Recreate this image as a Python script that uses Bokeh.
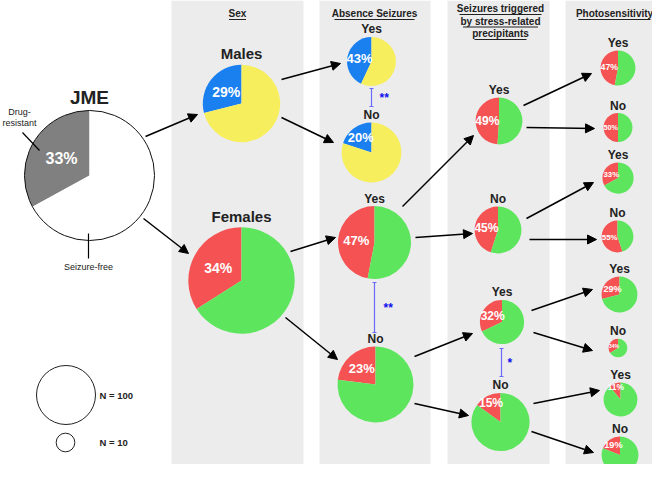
import math
from bokeh.plotting import figure
from bokeh.models import Range1d, ColumnDataSource, Arrow, NormalHead
from bokeh.core.properties import value
from bokeh.embed import file_html
from bokeh.resources import INLINE

# ---------------- data ----------------
node_ids = ["JME", "M", "F", "MAY", "MAN", "FAY", "FAN",
            "FYSY", "FYSN", "FNSY", "FNSN",
            "P1", "P2", "P3", "P4", "P5", "P6", "P7", "P8"]
node_labels = ["JME", "Males", "Females", "Yes", "No", "Yes", "No",
               "Yes", "No", "Yes", "No",
               "Yes", "No", "Yes", "No", "Yes", "No", "Yes", "No"]
node_pct = [33, 29, 34, 43, 20, 47, 23, 49, 45, 32, 15,
            47, 50, 33, 55, 29, 34, 11, 19]
node_n = [486, 172, 325, 69, 103, 153, 166, 63, 63, 56, 97,
          35, 24, 28, 29, 37, 10, 33, 39]
node_group = ["all", "male", "female", "male", "male", "female", "female",
              "female", "female", "female", "female",
              "female", "female", "female", "female", "female", "female", "female", "female"]
edges_from = ["JME", "JME", "M", "M", "F", "F", "FAY", "FAY", "FAN", "FAN",
              "FYSY", "FYSY", "FYSN", "FYSN", "FNSY", "FNSY", "FNSN", "FNSN"]
edges_to = ["M", "F", "MAY", "MAN", "FAY", "FAN", "FYSY", "FYSN", "FNSY", "FNSN",
            "P1", "P2", "P3", "P4", "P5", "P6", "P7", "P8"]
sig_from = ["MAY", "FAY", "FNSY"]
sig_to = ["MAN", "FAN", "FNSN"]
sig_marks = ["**", "**", "*"]
header_lines = ["Sex", "Absence Seizures", "Seizures triggered", "by stress-related",
                "precipitants", "Photosensitivity"]
legend_n = [100, 10]
legend_labels = ["N = 100", "N = 10"]

# ---------------- layout (reference pixel coordinates, y downward) ----------------
W, H = 652, 464
def Y(v):
    return H - v

centers = {
    "JME": (89, 175), "M": (241, 103), "F": (241, 280),
    "MAY": (371, 61), "MAN": (371, 152), "FAY": (374, 242), "FAN": (375, 384),
    "FYSY": (498.5, 120.5), "FYSN": (497.5, 229.5), "FNSY": (501.5, 321.5), "FNSN": (500, 421.5),
    "P1": (617.5, 67.5), "P2": (617.5, 127), "P3": (617.5, 177.5), "P4": (617, 236),
    "P5": (619, 294), "P6": (617.5, 347.5), "P7": (620, 399), "P8": (619.5, 454.5),
}
arrow_ends = [((145, 136), (197, 114)), ((143, 218), (188, 253)),
              ((281, 79), (340, 63)), ((281, 117), (333, 142)),
              ((290, 251), (335, 237)), ((285, 317), (337, 359)),
              ((402, 206), (473, 135)), ((415, 237), (472, 233)),
              ((414, 356), (472, 333)), ((414, 403), (468, 415)),
              ((523, 105), (591, 73)), ((526, 127), (594, 128)),
              ((526, 218), (593, 182)), ((529, 239), (596, 239)),
              ((531, 310), (592, 289)), ((533, 332), (592, 350)),
              ((533, 403), (599, 390)), ((531, 431), (593, 452))]
sig_pos = [(371, 88, 106, 379, 97), (374, 282, 332, 383, 307), (501, 348, 376, 507, 362)]
columns_x = [(171, 303), (319, 430), (447, 549), (565, 668)]
header_pos = [(237, 13, 17), (374, 13, 80), (500, 8, 82), (500, 20.5, 75), (500, 33, 52), (614, 13, 72)]
legend_pos = [(65.5, 394.5), (65, 442)]

colors = {"all": ("#808080", "#ffffff"), "male": ("#1a80f0", "#f6ee5c"),
          "female": ("#f55353", "#5de65d")}
FONT = value("Liberation Sans")

def radius(n):
    return 29.5 * math.sqrt(n / 100.0)

# ---------------- figure ----------------
p = figure(width=W, height=H, x_range=Range1d(0, W), y_range=Range1d(0, H),
           output_backend="svg", toolbar_location=None, min_border=0)
p.axis.visible = False
p.grid.visible = False
p.outline_line_color = None
p.background_fill_color = "white"

# gray columns
p.quad(left=[c[0] for c in columns_x], right=[c[1] for c in columns_x],
       top=[Y(0)] * 4, bottom=[Y(478)] * 4, fill_color="#ececec", line_color=None)

# headers with underline
p.text(x=[h[0] for h in header_pos], y=[Y(h[1]) for h in header_pos], text=header_lines,
       text_align="center", text_baseline="middle", text_font=FONT,
       text_font_style="bold", text_font_size="10px", text_color="#222222")
p.segment(x0=[h[0] - h[2] / 2 for h in header_pos], x1=[h[0] + h[2] / 2 for h in header_pos],
          y0=[Y(h[1] + 6) for h in header_pos], y1=[Y(h[1] + 6) for h in header_pos],
          line_color="#222222", line_width=1)

# pies
wx, wy, wr, ws, we, wc = [], [], [], [], [], []
tx, ty, tt, tf = [], [], [], []
lx, ly, lt, lf = [], [], [], []
for i, nid in enumerate(node_ids):
    cx, cy = centers[nid]
    r = radius(node_n[i])
    frac = node_pct[i] / 100.0
    c1, c2 = colors[node_group[i]]
    a0 = math.pi / 2
    a1 = a0 + 2 * math.pi * frac
    wx += [cx, cx]; wy += [Y(cy), Y(cy)]; wr += [r, r]
    ws += [a0, a1]; we += [a1, a0 + 2 * math.pi]; wc += [c1, c2]
    mid = (a0 + a1) / 2
    f = 0.5 if frac >= 0.25 else 0.5 + (0.25 - frac) * 2.2
    tx.append(cx + f * r * math.cos(mid)); ty.append(Y(cy) + f * r * math.sin(mid))
    tt.append(f"{node_pct[i]}%")
    if i == 0:
        fs = 16
    elif i < 3:
        fs = 14
    elif i < 7:
        fs = 13
    elif i < 11:
        fs = 12
    else:
        fs = max(5, 0.5 * r)
    tf.append(f"{fs:.1f}px")
    if i == 0:
        off, lfs = 13, 19
    elif i < 3:
        off, lfs = 11, 15
    else:
        off, lfs = 7.5, 12
    lx.append(cx); ly.append(Y(cy - r - off)); lt.append(node_labels[i]); lf.append(f"{lfs}px")

p.wedge(x=wx, y=wy, radius=wr, start_angle=ws, end_angle=we, direction="anticlock",
        fill_color=wc, line_color=None)
# outline of the JME pie
p.circle(x=[centers["JME"][0]], y=[Y(centers["JME"][1])], radius=[radius(node_n[0])],
         fill_color=None, line_color="#111111", line_width=1)

psrc = ColumnDataSource(dict(x=tx, y=ty, text=tt, fs=tf))
p.text(x="x", y="y", text="text", source=psrc, text_align="center", text_baseline="middle",
       text_font=FONT, text_font_style="bold", text_font_size="fs", text_color="white")
lsrc = ColumnDataSource(dict(x=lx, y=ly, text=lt, fs=lf))
p.text(x="x", y="y", text="text", source=lsrc, text_align="center", text_baseline="middle",
       text_font=FONT, text_font_style="bold", text_font_size="fs", text_color="#222222")

# JME annotations
p.segment(x0=[22, 88], y0=[Y(132), Y(233)], x1=[39, 88], y1=[Y(150), Y(258)],
          line_color="black", line_width=1.2)
p.text(x=[19, 19, 88], y=[Y(111), Y(122), Y(266)], text=["Drug-", "resistant", "Seizure-free"],
       text_align="center", text_baseline="middle", text_font=FONT,
       text_font_size="9px", text_color="#222222")

# arrows
asrc = ColumnDataSource(dict(
    x0=[a[0][0] for a in arrow_ends], y0=[Y(a[0][1]) for a in arrow_ends],
    x1=[a[1][0] for a in arrow_ends], y1=[Y(a[1][1]) for a in arrow_ends]))
p.add_layout(Arrow(end=NormalHead(size=9, fill_color="black", line_color="black"),
                   x_start="x0", y_start="y0", x_end="x1", y_end="y1", source=asrc,
                   line_color="black", line_width=1.5))

# significance brackets
sx, sy0, sy1, capx0, capx1, capy = [], [], [], [], [], []
for (x, ya, yb, _, _) in sig_pos:
    sx.append(x); sy0.append(Y(ya)); sy1.append(Y(yb))
    for yy in (ya, yb):
        capx0.append(x - 2); capx1.append(x + 2); capy.append(Y(yy))
p.segment(x0=sx, x1=sx, y0=sy0, y1=sy1, line_color="#6a6aff", line_width=1.2)
p.segment(x0=capx0, x1=capx1, y0=capy, y1=capy, line_color="#6a6aff", line_width=1)
p.text(x=[s[3] for s in sig_pos], y=[Y(s[4]) for s in sig_pos], text=sig_marks,
       text_align="left", text_baseline="middle", text_font=FONT, text_font_style="bold",
       text_font_size="12px", text_color="#1010ee")

# size legend
p.circle(x=[l[0] for l in legend_pos], y=[Y(l[1]) for l in legend_pos],
         radius=[radius(n) for n in legend_n], fill_color="white", line_color="#222222",
         line_width=1)
p.text(x=[99, 99], y=[Y(l[1]) for l in legend_pos], text=legend_labels,
       text_align="left", text_baseline="middle", text_font=FONT, text_font_style="bold",
       text_font_size="9.5px", text_color="#222222")

open("out.html", "w").write(file_html(p, INLINE))
